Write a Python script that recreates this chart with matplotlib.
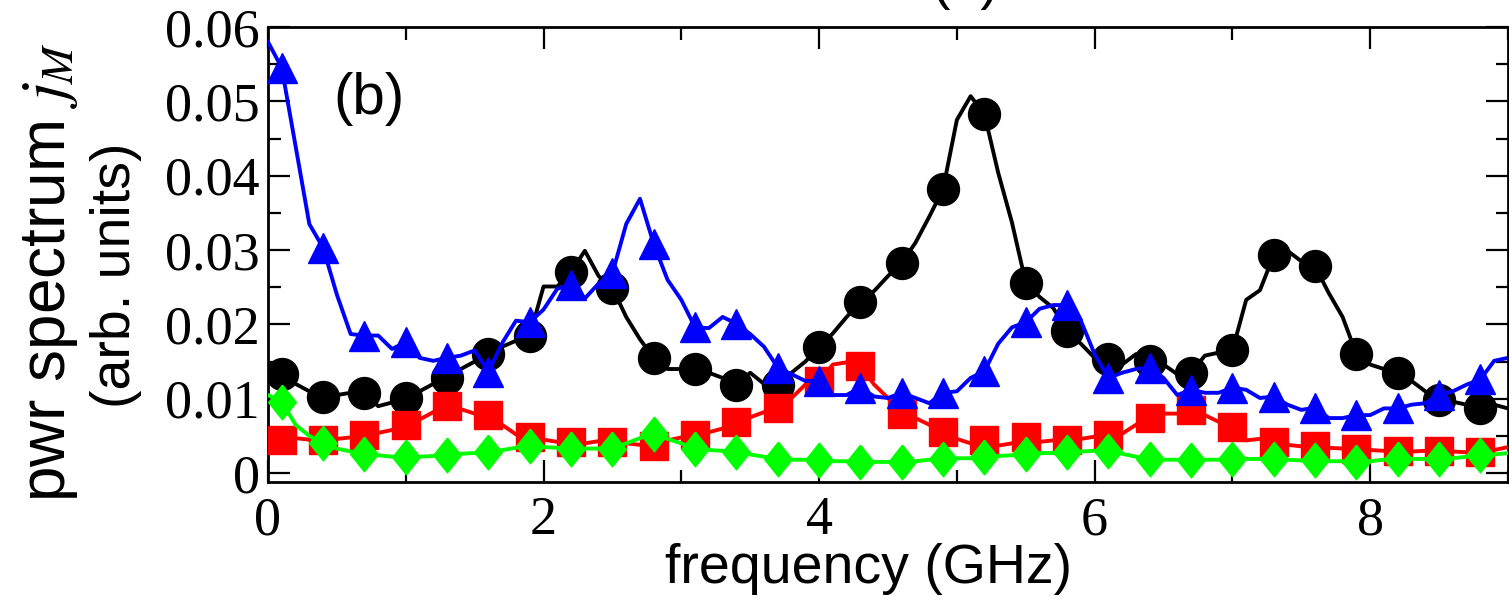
import numpy as np
import matplotlib
matplotlib.use('Agg')
import matplotlib.pyplot as plt
from matplotlib.ticker import MultipleLocator, FixedLocator, FixedFormatter

plt.rcParams['mathtext.fontset'] = 'stix'

# frequency grid (GHz), line sampled every 0.1 GHz, symbols on every 3rd point
freq = np.round(np.arange(0, 91) * 0.1, 1)

black = [0.0125, 0.0133, 0.0120, 0.0110, 0.0103, 0.0105, 0.0108, 0.0108, 0.0090, 0.0095,
         0.0101, 0.0110, 0.0120, 0.0128, 0.0140, 0.0150, 0.0160, 0.0170, 0.0178, 0.0185,
         0.0251, 0.0251, 0.0271, 0.0299, 0.0265, 0.0249, 0.0210, 0.0180, 0.0155, 0.0140,
         0.0140, 0.0140, 0.0135, 0.0128, 0.0119, 0.0135, 0.0120, 0.0119, 0.0135, 0.0150,
         0.0169, 0.0188, 0.0210, 0.0230, 0.0245, 0.0265, 0.0283, 0.0310, 0.0345, 0.0382,
         0.0475, 0.0507, 0.0483, 0.0404, 0.0337, 0.0256, 0.0237, 0.0222, 0.0191, 0.0174,
         0.0155, 0.0153, 0.0146, 0.0160, 0.0151, 0.0146, 0.0133, 0.0135, 0.0158, 0.0162,
         0.0165, 0.0233, 0.0246, 0.0293, 0.0299, 0.0285, 0.0278, 0.0242, 0.0210, 0.0160,
         0.0146, 0.0140, 0.0135, 0.0124, 0.0110, 0.0098, 0.0096, 0.0092, 0.0087, 0.0092,
         0.0087]

red = [0.0044, 0.0044, 0.0047, 0.0045, 0.0044, 0.0046, 0.0048, 0.0051, 0.0054, 0.0058,
       0.0065, 0.0072, 0.0082, 0.0090, 0.0086, 0.0080, 0.0078, 0.0065, 0.0052, 0.0049,
       0.0045, 0.0042, 0.0042, 0.0040, 0.0043, 0.0042, 0.0040, 0.0038, 0.0037, 0.0044,
       0.0048, 0.0051, 0.0055, 0.0060, 0.0069, 0.0075, 0.0082, 0.0087, 0.0101, 0.0119,
       0.0124, 0.0146, 0.0149, 0.0144, 0.0119, 0.0101, 0.0080, 0.0074, 0.0065, 0.0055,
       0.0046, 0.0040, 0.0044, 0.0037, 0.0040, 0.0049, 0.0042, 0.0044, 0.0044, 0.0046,
       0.0049, 0.0051, 0.0053, 0.0065, 0.0074, 0.0080, 0.0080, 0.0085, 0.0078, 0.0069,
       0.0062, 0.0044, 0.0046, 0.0042, 0.0038, 0.0036, 0.0037, 0.0034, 0.0033, 0.0033,
       0.0031, 0.0030, 0.0030, 0.0029, 0.0030, 0.0030, 0.0029, 0.0028, 0.0028, 0.0031,
       0.0035]

blue = [0.0580, 0.0545, 0.0440, 0.0335, 0.0303, 0.0240, 0.0187, 0.0185, 0.0185, 0.0167,
        0.0176, 0.0155, 0.0151, 0.0155, 0.0158, 0.0165, 0.0136, 0.0175, 0.0205, 0.0203,
        0.0220, 0.0248, 0.0253, 0.0235, 0.0255, 0.0269, 0.0335, 0.0369, 0.0308, 0.0260,
        0.0233, 0.0196, 0.0195, 0.0210, 0.0201, 0.0187, 0.0170, 0.0142, 0.0133, 0.0124,
        0.0124, 0.0105, 0.0105, 0.0115, 0.0103, 0.0101, 0.0108, 0.0101, 0.0094, 0.0108,
        0.0110, 0.0128, 0.0137, 0.0174, 0.0196, 0.0203, 0.0221, 0.0226, 0.0226, 0.0205,
        0.0160, 0.0128, 0.0135, 0.0140, 0.0142, 0.0128, 0.0105, 0.0112, 0.0108, 0.0108,
        0.0115, 0.0112, 0.0101, 0.0103, 0.0092, 0.0085, 0.0088, 0.0074, 0.0074, 0.0078,
        0.0078, 0.0087, 0.0087, 0.0092, 0.0094, 0.0105, 0.0110, 0.0119, 0.0126, 0.0151,
        0.0155]

green = [0.0105, 0.0096, 0.0065, 0.0050, 0.0040, 0.0033, 0.0029, 0.0026, 0.0024, 0.0022,
         0.0021, 0.0022, 0.0023, 0.0024, 0.0026, 0.0027, 0.0028, 0.0031, 0.0034, 0.0037,
         0.0035, 0.0034, 0.0033, 0.0033, 0.0033, 0.0033, 0.0040, 0.0047, 0.0053, 0.0046,
         0.0040, 0.0033, 0.0031, 0.0030, 0.0028, 0.0025, 0.0022, 0.0019, 0.0018, 0.0018,
         0.0017, 0.0016, 0.0016, 0.0015, 0.0015, 0.0015, 0.0015, 0.0016, 0.0018, 0.0019,
         0.0020, 0.0020, 0.0021, 0.0023, 0.0024, 0.0026, 0.0027, 0.0027, 0.0028, 0.0029,
         0.0030, 0.0030, 0.0026, 0.0022, 0.0019, 0.0018, 0.0018, 0.0017, 0.0018, 0.0018,
         0.0019, 0.0019, 0.0019, 0.0019, 0.0018, 0.0017, 0.0017, 0.0016, 0.0016, 0.0015,
         0.0016, 0.0018, 0.0019, 0.0019, 0.0019, 0.0019, 0.0020, 0.0022, 0.0024, 0.0025,
         0.0027]

yticks = [0, 0.01, 0.02, 0.03, 0.04, 0.05, 0.06]
ytick_labels = ['0', '0.01', '0.02', '0.03', '0.04', '0.05', '0.06']
xticks = [0, 2, 4, 6, 8]
xtick_labels = ['0', '2', '4', '6', '8']

fig = plt.figure(figsize=(15.09, 6.06), dpi=100)
ax = fig.add_axes([0.1776, 0.2046, 0.8217, 0.7508])

# slightly tall diamond like the original symbols
diamond = [(0, 1), (0.8, 0), (0, -1), (-0.8, 0), (0, 1)]

every = (1, 3)
ax.plot(freq, black, color='black', lw=2.8, marker='o', ms=23, markevery=every, zorder=2)
ax.plot(freq, red, color='#ff0000', lw=2.8, marker='s', ms=20, markevery=every, zorder=3)
ax.plot(freq, blue, color='#0000ff', lw=2.8, marker='^', ms=22, markevery=every, zorder=4)
ax.plot(freq, green, color='#00ff00', lw=2.8, marker=diamond, ms=25, markevery=every, zorder=5)

ax.set_xlim(0, 9.0)
ax.set_ylim(-0.0012, 0.06)

ax.yaxis.set_major_locator(FixedLocator(yticks))
ax.yaxis.set_major_formatter(FixedFormatter(ytick_labels))
ax.yaxis.set_minor_locator(MultipleLocator(0.005))
ax.xaxis.set_major_locator(FixedLocator(xticks))
ax.xaxis.set_major_formatter(FixedFormatter(xtick_labels))
ax.xaxis.set_minor_locator(MultipleLocator(1))

ax.tick_params(which='both', direction='in', top=True, right=True, width=1.6)
ax.tick_params(which='major', length=16)
ax.tick_params(which='minor', length=9)
ax.tick_params(axis='y', pad=6)
ax.tick_params(axis='x', pad=10)
for lab in ax.get_xticklabels() + ax.get_yticklabels():
    lab.set_fontfamily('Liberation Serif')
    lab.set_fontsize(39)
for sp in ax.spines.values():
    sp.set_linewidth(2.0)

ax.set_xlabel('frequency (GHz)', fontsize=40, family='Liberation Sans')
ax.xaxis.set_label_coords(0.484, -0.135)
ax.xaxis.label.set_va('top')

# y label: two lines of different size, as in the original
fig.text(50 / 1509, 1 - 272 / 606, 'pwr spectrum $j_M$', rotation=90, fontsize=46,
         family='Liberation Sans', ha='center', va='center')
fig.text(116 / 1509, 1 - 275 / 606, '(arb. units)', rotation=90, fontsize=40,
         family='Liberation Sans', ha='center', va='center')

ax.text(0.73, 0.0503, '(b)', fontsize=42, family='Liberation Sans', ha='center', va='center')
fig.text(0.640, 1.004, '(a)', fontsize=40, family='Liberation Sans', ha='center', va='baseline')

fig.savefig('out.png', dpi=100)
